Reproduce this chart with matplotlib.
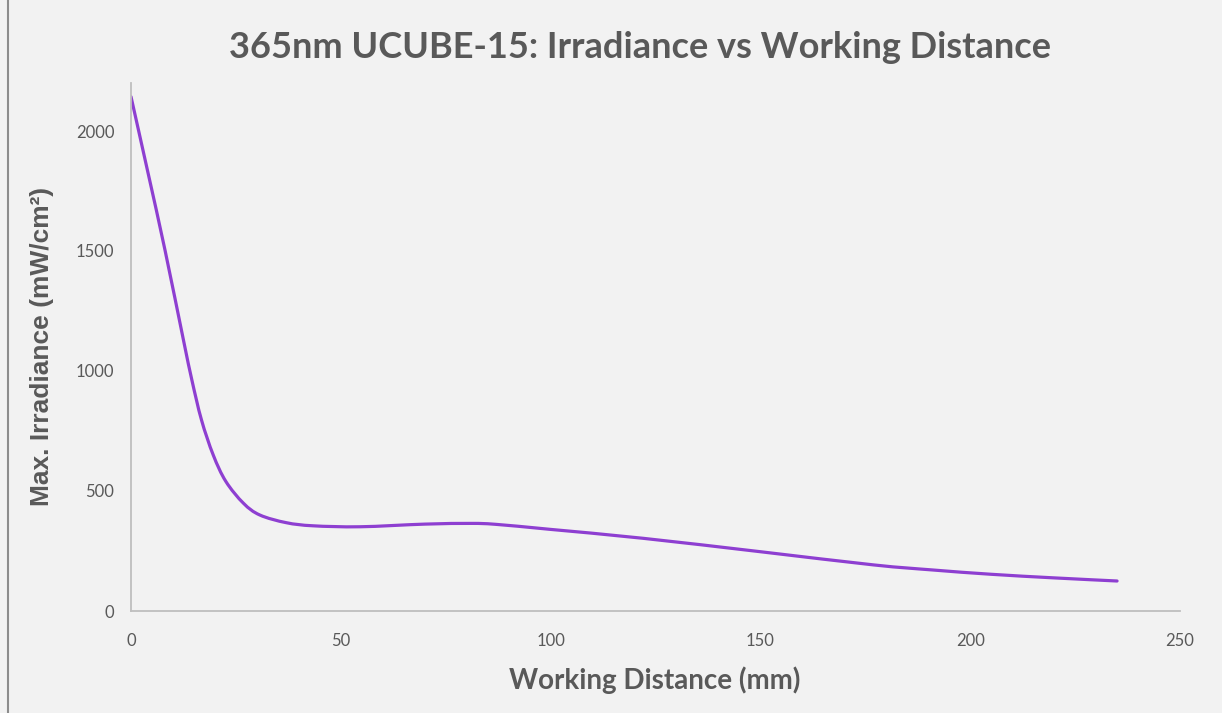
import matplotlib
matplotlib.use("Agg")
import matplotlib.pyplot as plt
from matplotlib.lines import Line2D
from matplotlib.path import Path
from matplotlib.patches import PathPatch

# Data
distance_mm = [0, 4, 8.1, 12.5, 14.5, 16.8, 19.6, 22.6, 26.8, 30.7, 37, 43.4, 54.6, 70, 81,
               87, 100, 122, 150, 177, 191, 205, 220, 235]
irradiance = [2143, 1830, 1504, 1129, 963, 796, 650, 540, 449, 400, 368, 355, 351, 362, 365,
              361, 340, 303, 247, 192, 171, 153, 138, 125]
x_ticks = [0, 50, 100, 150, 200, 250]
y_ticks = [0, 500, 1000, 1500, 2000]

title = "365nm UCUBE-15: Irradiance vs Working Distance"
x_label = "Working Distance (mm)"
y_label = "Max. Irradiance (mW/cm²)"

bg = "#f2f2f2"
text_col = "#595959"
axis_col = "#bfbfbf"
line_col = "#8e3fd1"

plt.rcParams['font.family'] = ['Lato', 'DejaVu Sans']

fig = plt.figure(figsize=(12.22, 7.13), dpi=100, facecolor=bg)
ax = fig.add_axes([131/1222, 1 - 611/713, (1180-131)/1222, (611-83)/713])
ax.set_facecolor(bg)


def smooth_path(xs, ys):
    """Catmull-Rom style smoothed path through the points (like a smoothed line)."""
    pts = list(zip(xs, ys))
    n = len(pts)
    verts = [pts[0]]
    codes = [Path.MOVETO]
    for i in range(n - 1):
        p0 = pts[i - 1] if i > 0 else pts[i]
        p1 = pts[i]
        p2 = pts[i + 1]
        p3 = pts[i + 2] if i + 2 < n else pts[i + 1]
        c1 = (p1[0] + (p2[0] - p0[0]) / 6, p1[1] + (p2[1] - p0[1]) / 6)
        c2 = (p2[0] - (p3[0] - p1[0]) / 6, p2[1] - (p3[1] - p1[1]) / 6)
        verts += [c1, c2, p2]
        codes += [Path.CURVE4] * 3
    return Path(verts, codes)


ax.add_patch(PathPatch(smooth_path(distance_mm, irradiance), fill=False,
                       edgecolor=line_col, lw=2.3, capstyle='round', joinstyle='round'))

ax.set_xlim(0, 250)
ax.set_ylim(0, 2200)
ax.set_xticks(x_ticks)
ax.set_yticks(y_ticks)
ax.tick_params(length=0, labelsize=12, colors=text_col, pad=12)
ax.tick_params(axis='x', pad=16)
for s in ['top', 'right']:
    ax.spines[s].set_visible(False)
for s in ['left', 'bottom']:
    ax.spines[s].set_color(axis_col)
    ax.spines[s].set_linewidth(1.3)

fig.text(640/1222, 1 - 48/713, title, ha='center', va='center', fontsize=26,
         fontweight='bold', color=text_col)
fig.text(655/1222, 1 - 680/713, x_label, ha='center', va='center', fontsize=20,
         fontweight='bold', color=text_col)
fig.text(42/1222, 1 - 346/713, y_label, ha='center', va='center', fontsize=19,
         fontweight='bold', color=text_col, rotation=90,
         family=['Liberation Sans', 'DejaVu Sans'])

fig.add_artist(Line2D([8/1222, 8/1222], [0, 1], color="#8c8c8c", lw=1.5,
                      transform=fig.transFigure))

fig.savefig("out.png", dpi=100, facecolor=bg)
